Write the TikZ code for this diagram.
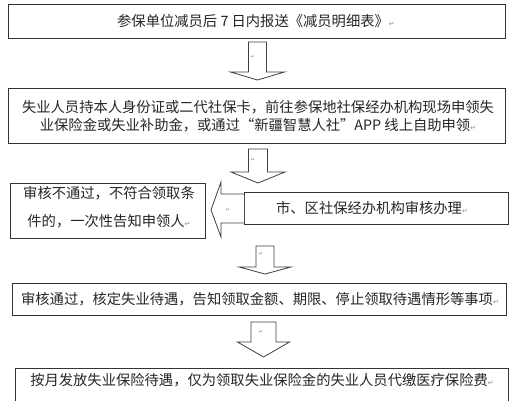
\documentclass[tikz,border=0pt]{standalone}
\usepackage{fontspec}
\setmainfont{Noto Sans CJK SC}
\newfontfamily\symfont{DejaVu Sans}
\newcommand{\pmark}{{\symfont\fontsize{7}{7}\selectfont\textcolor{black!45}{↵}}}
\newcommand{\amark}[1]{\node[inner sep=0] at (#1) {\symfont\fontsize{5}{5}\selectfont\textcolor{black!50}{↵}};}
% down block arrow: cx, top, head y, tip y, shaft half, head half
\newcommand{\blockdown}[6]{%
  \draw[barrow] (#1-#5,#2) -- (#1+#5,#2) -- (#1+#5,#3) -- (#1+#6,#3) -- (#1,#4)
     -- (#1-#6,#3) -- (#1-#5,#3) -- cycle;}
\begin{document}
\begin{tikzpicture}[x=1pt,y=-1pt,
  box/.style={draw=black!80, line width=0.9pt, fill=white, inner sep=0pt, anchor=north west},
  txt/.style={font=\fontsize{14.3}{18}\selectfont, text=black!85, align=center, inner sep=0pt},
  barrow/.style={draw=black!75, line width=0.8pt, fill=white, line join=miter}]
\useasboundingbox (0,0) rectangle (532,400);
\clip (0,0) rectangle (532,400);
\fill[white] (0,0) rectangle (532,400);

% boxes
\draw[box] (8,4) rectangle (505,38);
\node[txt] (t1) at (256,21) {参保单位减员后 7 日内报送《减员明细表》\pmark};

\blockdown{257.5}{42}{72}{80}{9}{27}
\amark{253,57}

\draw[box] (8,88) rectangle (505,143);
\node[txt] (t2) at (258,116) {失业人员持本人身份证或二代社保卡，前往参保地社保经办机构现场申领失\\业保险金或失业补助金，或通过“新疆智慧人社”APP 线上自助申领\pmark};

\blockdown{258}{149}{172}{183}{9.5}{27}
\amark{253,160}

\draw[box] (10,183) rectangle (205,238);
\node[txt, font=\fontsize{14.3}{28}\selectfont] (t3) at (109,207) {审核不通过，不符合领取条\\件的，一次性告知申领人\pmark};

\draw[box] (244,192) rectangle (508,224);
\node[txt] (t4) at (372,208) {市、区社保经办机构审核办理\pmark};

\draw[barrow] (244,194) -- (221,194) -- (221,182) -- (211,210) -- (221,237) -- (221,223) -- (244,223);
\amark{228,210}

\blockdown{265}{246}{267}{274}{9}{26}
\amark{261,254}

\draw[box] (12,283) rectangle (506,315);
\node[txt] (t5) at (260,299) {审核通过，核定失业待遇，告知领取金额、期限、停止领取待遇情形等事项\pmark};

\blockdown{263.5}{322}{342}{357}{12.5}{26}
\amark{261,332}

\draw[box] (15,368) rectangle (508,405);
\node[txt] (t6) at (262,380) {按月发放失业保险待遇，仅为领取失业保险金的失业人员代缴医疗保险费\pmark};
\end{tikzpicture}
\end{document}
